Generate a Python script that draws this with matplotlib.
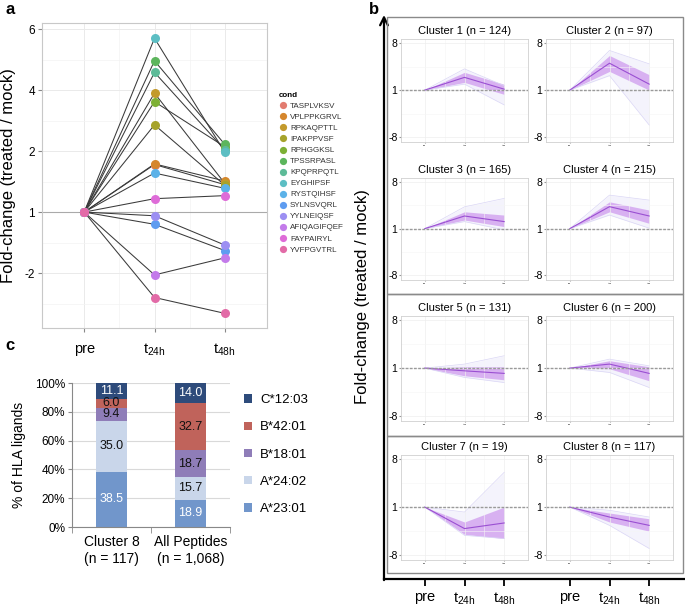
import numpy as np
import matplotlib
matplotlib.use('Agg')
import matplotlib.pyplot as plt
from matplotlib.patches import Rectangle

plt.rcParams['font.family'] = ['Liberation Sans', 'DejaVu Sans']
plt.rcParams['mathtext.fontset'] = 'custom'
plt.rcParams['mathtext.rm'] = 'Liberation Sans'
plt.rcParams['mathtext.it'] = 'Liberation Sans'

# ---------------- data ----------------
# panel a: fold-change of selected peptides
peptides = ['TASPLVKSV', 'VPLPPKGRVL', 'RPKAQPTTL', 'IPAKPPVSF', 'RPHGGKSL',
            'TPSSRPASL', 'KPQPRPQTL', 'EYGHIPSF', 'RYSTQIHSF', 'SYLNSVQRL',
            'YYLNEIQSF', 'AFIQAGIFQEF', 'FAYPAIRYL', 'YVFPGVTRL']
pep_colors = ['#E27C70', '#D5862D', '#C39A2C', '#A6A32B', '#7DB035',
              '#5CB55C', '#5DBB98', '#5CBEC3', '#5CB2E8', '#5E9CF0',
              '#9C8FF2', '#C37BEA', '#DE6CD8', '#E26BA7']
fc_pre = [1] * 14
fc_24h = [1.78, 1.79, 3.9, 2.86, 3.62, 4.96, 4.58, 5.7, 1.64, 0.4,
          0.82, -2.12, 1.22, -3.6]
fc_48h = [1.45, 1.51, 1.47, 1.44, 2.14, 2.22, 2.04, 1.98, 1.39, -0.89,
          -0.62, -1.25, 1.27, -4.64]
time_labels = ['pre', 't$_{\\mathrm{24h}}$', 't$_{\\mathrm{48h}}$']

# axis knots of the fold-change scale (label value -> even spacing)
fc_vals = [-6, -2, 1, 2, 4, 6, 8]
fc_pos = [-2, -1, 0, 1, 2, 3, 4]

# panel b: cluster profiles (log2 fold-change), points pre / 24h / 48h
cluster_names = ['Cluster 1 (n = 124)', 'Cluster 2 (n = 97)',
                 'Cluster 3 (n = 165)', 'Cluster 4 (n = 215)',
                 'Cluster 5 (n = 131)', 'Cluster 6 (n = 200)',
                 'Cluster 7 (n = 19)', 'Cluster 8 (n = 117)']
cl_mean = [[0, 0.81, 0.06], [0, 1.71, 0.38], [0, 0.81, 0.45], [0, 1.41, 0.81],
           [0, -0.17, -0.33], [0, 0.25, -0.33], [0, -1.34, -0.99], [0, -0.62, -1.14]]
cl_sd_hi = [[0, 1.13, 0.37], [0, 2.2, 0.98], [0, 1.08, 0.87], [0, 1.72, 1.19],
            [0, 0.08, 0.08], [0, 0.46, 0.08], [0, -0.93, 0.0], [0, -0.37, -0.73]]
cl_sd_lo = [[0, 0.49, -0.27], [0, 1.19, 0.0], [0, 0.55, 0.13], [0, 1.08, 0.34],
            [0, -0.48, -0.73], [0, -0.04, -0.79], [0, -1.7, -1.96], [0, -0.93, -1.5]]
cl_max = [[0, 1.35, 0.28], [0, 2.52, 1.67], [0, 1.40, 1.94], [0, 2.15, 1.83],
          [0, 0.25, 0.77], [0, 0.56, 0.14], [0, -0.31, 2.17], [0, -0.2, -0.62]]
cl_min = [[0, 0.38, -0.94], [0, 0.92, -2.22], [0, 0.45, -0.08], [0, 0.87, 0.03],
          [0, -0.58, -0.9], [0, -0.27, -1.21], [0, -1.76, -1.96], [0, -1.14, -2.58]]

# panel c: HLA allotype distribution
groups = ['Cluster 8\n(n = 117)', 'All Peptides\n(n = 1,068)']
alleles = ['A*23:01', 'A*24:02', 'B*18:01', 'B*42:01', 'C*12:03']
allele_colors = ['#7196CB', '#C9D6EA', '#8F7DB8', '#C0635B', '#2E4B7B']
label_colors = ['white', '#111111', '#111111', '#111111', 'white']
shares = {'A*23:01': [38.5, 18.9],
          'A*24:02': [35.0, 15.7],
          'B*18:01': [9.4, 18.7],
          'B*42:01': [6.0, 32.7],
          'C*12:03': [11.1, 14.0]}

W, H = 685, 610
fig = plt.figure(figsize=(W / 100, H / 100), dpi=100)


def box(l, t, r, b):
    return [l / W, 1 - b / H, (r - l) / W, (b - t) / H]


# ---------------- panel a ----------------
ax = fig.add_axes(box(42, 23, 267, 328))
fwd = lambda v: np.interp(v, fc_vals, fc_pos)
inv = lambda p: np.interp(p, fc_pos, fc_vals)
ax.set_yscale('function', functions=(fwd, inv))
x_t = [1, 2, 3]
for i in range(len(peptides)):
    ax.plot(x_t, [fc_pre[i], fc_24h[i], fc_48h[i]], color='#3A3A3A', lw=0.75, zorder=2)
for i in range(len(peptides)):
    ax.plot(x_t, [fc_pre[i], fc_24h[i], fc_48h[i]], 'o', color=pep_colors[i],
            ms=6.5, mec='none', zorder=3, label=peptides[i])
ax.axhline(1, color='#AAAAAA', lw=0.8, zorder=1)
ax.set_xlim(0.4, 3.6)
ax.set_ylim(inv(-1.9), inv(3.1))
ax.set_yticks([-2, 1, 2, 4, 6])
ax.set_yticklabels(['-2', '1', '2', '4', '6'])
ax.set_yticks([-4, -0.5, 1.5, 3, 5], minor=True)
ax.set_xticks(x_t)
ax.set_xticklabels(time_labels)
ax.set_xticks([1.5, 2.5], minor=True)
ax.grid(True, which='major', color='#EAEAEA', lw=0.7, zorder=0)
ax.grid(True, which='minor', color='#F3F3F3', lw=0.5, zorder=0)
ax.tick_params(which='minor', length=0)
ax.tick_params(axis='y', labelsize=8.5, length=3, color='#888888', pad=2)
ax.tick_params(axis='x', labelsize=10.5, length=3, color='#888888', pad=7)
for s in ax.spines.values():
    s.set_color('#C8C8C8')
    s.set_linewidth(0.8)
ax.set_ylabel('Fold-change (treated / mock)', fontsize=12)
ax.yaxis.set_label_coords(-26 / 225, 0.5)
ax.set_axisbelow(True)
leg = ax.legend(title='cond', loc='upper left', bbox_to_anchor=(276 / W, 1 - 89 / H),
                bbox_transform=fig.transFigure, frameon=False, fontsize=5.8,
                title_fontproperties={'weight': 'bold', 'size': 5.8},
                labelspacing=0.42, handletextpad=0.35, markerscale=0.8,
                borderaxespad=0, handlelength=1.0)
leg._legend_box.align = 'left'
for t in leg.get_texts():
    t.set_color('#333333')

# ---------------- panel b ----------------
big = fig.add_axes(box(384, 15, 685, 579))
big.set_facecolor('none')
big.set_xticks([])
big.set_yticks([])
for k in ['top', 'right', 'left']:
    big.spines[k].set_visible(False)
big.spines['bottom'].set_linewidth(1.6)
big.annotate('', xy=(0, 1), xytext=(0, -0.002), xycoords='axes fraction',
             arrowprops=dict(arrowstyle='->', lw=1.6, color='black',
                             mutation_scale=14, shrinkA=0, shrinkB=0))
big.set_ylabel('Fold-change (treated / mock)', fontsize=12)
big.yaxis.set_label_coords(-14 / 301, 0.5)

for (t, b) in [(17, 294), (294, 436), (436, 573)]:
    fig.patches.append(Rectangle((387 / W, 1 - b / H), (683 - 387) / W, (b - t) / H,
                                 transform=fig.transFigure, fill=False,
                                 ec='#8A8A8A', lw=1.0))

col_x = [(401, 528), (546, 673)]
row_y = [(39, 142), (178, 280), (316, 421), (455, 560)]
for k in range(8):
    r, c = divmod(k, 2)
    sub = fig.add_axes(box(col_x[c][0], row_y[r][0], col_x[c][1], row_y[r][1]))
    sub.fill_between(x_t, cl_min[k], cl_max[k], color='#EEECFB', alpha=0.6, lw=0)
    sub.plot(x_t, cl_max[k], color='#DAD6F5', lw=0.5)
    sub.plot(x_t, cl_min[k], color='#DAD6F5', lw=0.5)
    sub.fill_between(x_t, cl_sd_lo[k], cl_sd_hi[k], color='#D3A6F0', alpha=0.85, lw=0)
    sub.plot(x_t, cl_mean[k], color='#9A4FD2', lw=0.8)
    sub.axhline(0, color='#9A9A9A', lw=1.0, ls=(0, (2, 1)))
    sub.set_xlim(0.4, 3.6)
    sub.set_ylim(-3.3, 3.25)
    sub.set_yticks([-3, 0, 3])
    sub.set_yticklabels(['-8', '1', '8'])
    sub.set_yticks([-1.5, 1.5], minor=True)
    sub.set_xticks(x_t)
    sub.set_xticklabels(['pre', 't24h', 't48h'], fontsize=1.5)
    sub.set_xticks([1.5, 2.5], minor=True)
    sub.grid(True, which='major', color='#EEEEEE', lw=0.5)
    sub.grid(True, which='minor', color='#F5F5F5', lw=0.4)
    sub.tick_params(which='minor', length=0)
    sub.tick_params(axis='y', labelsize=7.5, length=1.5, pad=1, color='#999999')
    sub.tick_params(axis='x', length=1, pad=1, color='#999999')
    for s in sub.spines.values():
        s.set_color('#D0D0D0')
        s.set_linewidth(0.6)
    sub.set_title(cluster_names[k], fontsize=8, pad=3.5)
    if r == 3:
        sec = sub.secondary_xaxis(-19 / 105)
        sec.set_xticks(x_t)
        sec.set_xticklabels(time_labels)
        sec.tick_params(length=5, width=1.3, labelsize=10.5, pad=3)
        sec.spines['bottom'].set_visible(False)

# ---------------- panel c ----------------
axc = fig.add_axes(box(72, 383, 230, 527))
xg = np.arange(len(groups))
bottom = np.zeros(len(groups))
for a, col, lc in zip(alleles, allele_colors, label_colors):
    vals = np.array(shares[a])
    axc.bar(xg, vals, 0.4, bottom=bottom, color=col, label=a, zorder=2)
    for xi, v, b0 in zip(xg, vals, bottom):
        axc.text(xi, b0 + v / 2, f'{v:.1f}', ha='center', va='center',
                 fontsize=9, color=lc, zorder=3)
    bottom += vals
axc.set_xlim(-0.5, 1.5)
axc.set_ylim(0, 100)
axc.set_yticks(np.arange(0, 101, 20))
axc.set_yticklabels([f'{v}%' for v in range(0, 101, 20)])
axc.yaxis.grid(True, color='#D9D9D9', lw=0.8, zorder=0)
axc.set_axisbelow(True)
axc.set_xticks(xg)
axc.set_xticklabels(groups)
axc.set_xticks([-0.5, 0.5, 1.5], minor=True)
axc.tick_params(axis='x', which='major', length=0, labelsize=10, pad=6)
axc.tick_params(axis='x', which='minor', length=4, color='#888888')
axc.tick_params(axis='y', labelsize=8.5, length=3, color='#888888', pad=2)
for k in ['top', 'right']:
    axc.spines[k].set_visible(False)
for k in ['left', 'bottom']:
    axc.spines[k].set_color('#888888')
axc.set_ylabel('% of HLA ligands', fontsize=10)
axc.yaxis.set_label_coords(-46 / 158, 0.5)
h, l = axc.get_legend_handles_labels()
axc.legend(h[::-1], l[::-1], loc='upper left', bbox_to_anchor=(239 / W, 1 - 389 / H),
           bbox_transform=fig.transFigure, frameon=False, fontsize=9.5,
           handlelength=0.6, handleheight=0.6, labelspacing=1.15,
           handletextpad=0.6, borderaxespad=0)

# panel letters
fig.text(5 / W, 1 - 10 / H, 'a', fontsize=12, fontweight='bold', va='center')
fig.text(369 / W, 1 - 9 / H, 'b', fontsize=12, fontweight='bold', va='center')
fig.text(5 / W, 1 - 345 / H, 'c', fontsize=12, fontweight='bold', va='center')

fig.savefig('out.png', dpi=100)
